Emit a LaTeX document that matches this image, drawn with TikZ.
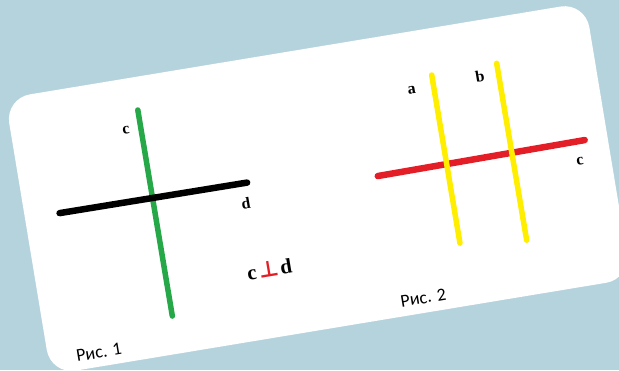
\documentclass[tikz,border=0pt]{standalone}
\usepackage{fontspec}
\setmainfont{Liberation Serif}
\newfontfamily\capfont{Carlito}
\newfontfamily\symfont{DejaVu Sans}
\usepackage{tikz}
\definecolor{bgb}{RGB}{181,211,221}
\definecolor{lgr}{RGB}{38,168,72}
\definecolor{lye}{RGB}{255,238,0}
\definecolor{lrd}{RGB}{228,30,38}

\begin{document}
\begin{tikzpicture}[x=1pt,y=-1pt,
  seg/.style={line width=5.5pt,line cap=round},
  lbl/.style={font=\fontsize{16}{16}\selectfont\bfseries,inner sep=0pt,transform shape},
  big/.style={font=\fontsize{21}{21}\selectfont\bfseries,inner sep=0pt,anchor=base,transform shape},
  fig/.style={font=\capfont\fontsize{18}{18}\selectfont,inner sep=0pt,transform shape}]
  \useasboundingbox (0,0) rectangle (619,370);
  \fill[bgb] (0,0) rectangle (619,370);
  \clip (0,0) rectangle (619,370);
  \begin{scope}[rotate=9.4]
  \fill[white,rounded corners=25pt] (-11,98) rectangle (577,378);
  % Рис. 1
  \coordinate (c1) at (118,131);\coordinate (c2) at (118.4,340);
  \coordinate (d1) at (24,220);\coordinate (d2) at (214,220.5);
  \draw[seg,lgr] (c1)--(c2);
  \draw[seg,black,line width=6.5pt] (d1)--(d2);
  \node[lbl] (lc) at (103,149){c};
  \node[lbl] (ld) at (209.5,240.5){d};
  \node[big] (pc) at (204,317){c};
  \node[big,text=lrd,font=\symfont\bfseries\fontsize{22}{22}\selectfont] (pp) at (221,317){⊥};
  \node[big] (pd) at (238.5,317){d};
  \node[fig] (f1) at (40,364){Рис. 1};
  % Рис. 2
  \coordinate (r1) at (344,235.4);\coordinate (r2) at (554,233.7);
  \coordinate (a1) at (413.7,144.5);\coordinate (a2) at (414.1,315);
  \coordinate (b1) at (479.7,143.6);\coordinate (b2) at (480.4,323);
  \draw[seg,lrd,line width=6.5pt] (r1)--(r2);
  \draw[seg,lye] (a1)--(a2);
  \draw[seg,lye] (b1)--(b2);
  \node[lbl] (la) at (391.5,156){a};
  \node[lbl] (lb) at (461,153.4){b};
  \node[lbl] (lc2) at (546,254){c};
  \node[fig] (f2) at (369,363){Рис. 2};
  \end{scope}
\end{tikzpicture}
\end{document}
